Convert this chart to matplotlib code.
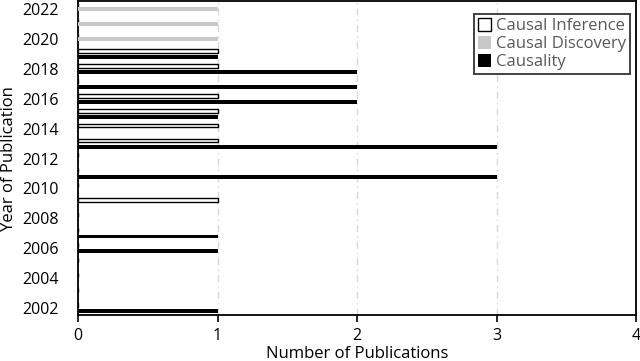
import matplotlib.pyplot as plt
import numpy as np

plt.rcParams['font.family'] = ['Open Sans', 'DejaVu Sans']

# publications per year
years = np.arange(2002, 2023)
causal_inference = [0, 0, 0, 0, 0, 0, 0, 1, 0, 0, 0, 1, 1, 1, 1, 0, 1, 1, 0, 0, 0]
causal_discovery = [0, 0, 0, 0, 0, 0, 0, 0, 0, 0, 0, 0, 0, 0, 0, 0, 0, 0, 1, 1, 1]
causality        = [1, 0, 0, 0, 1, 1, 0, 0, 0, 3, 0, 3, 0, 1, 2, 2, 2, 1, 0, 0, 0]

fig = plt.figure(figsize=(6.4, 3.61), dpi=100)
ax = fig.add_axes([0.122, 0.127, 0.872, 0.870])

h = 0.26
off = 0.21
ax.barh(years + off, causal_inference, height=h, color='white',
        edgecolor='black', linewidth=1.0, label='Causal Inference', zorder=3)
ax.barh(years, causal_discovery, height=h, color='#c8c8c8',
        label='Causal Discovery', zorder=3)
ax.barh(years - off, causality, height=h, color='black',
        label='Causality', zorder=3)

ax.set_xlim(0, 4)
ax.set_ylim(2001.53, 2022.53)
ax.set_xticks([0, 1, 2, 3, 4])
ax.set_yticks(np.arange(2002, 2023, 2))
ax.tick_params(axis='y', length=0, labelsize=11.5, pad=14)
ax.tick_params(axis='x', direction='out', length=5, width=1.2, labelsize=11.5, pad=4)
ax.grid(axis='x', color='#d8d8d8', linestyle=(0, (5, 3, 1, 3)), linewidth=1.0, zorder=0)

for s in ax.spines.values():
    s.set_linewidth(1.3)
    s.set_color('black')

ax.set_xlabel('Number of Publications', fontsize=12, labelpad=2)
ax.set_ylabel('Year of Publication', fontsize=12, labelpad=4)

leg = ax.legend(loc='upper right', bbox_to_anchor=(0.9985, 0.975), fontsize=12,
                frameon=True, fancybox=False, handlelength=0.8, handleheight=0.8,
                handletextpad=0.3, borderpad=0.25, labelspacing=0.1, borderaxespad=0.3)
leg.get_frame().set_edgecolor('black')
leg.get_frame().set_linewidth(1.3)
for t in leg.get_texts():
    t.set_color('#595959')

fig.savefig('out.png', dpi=100)
